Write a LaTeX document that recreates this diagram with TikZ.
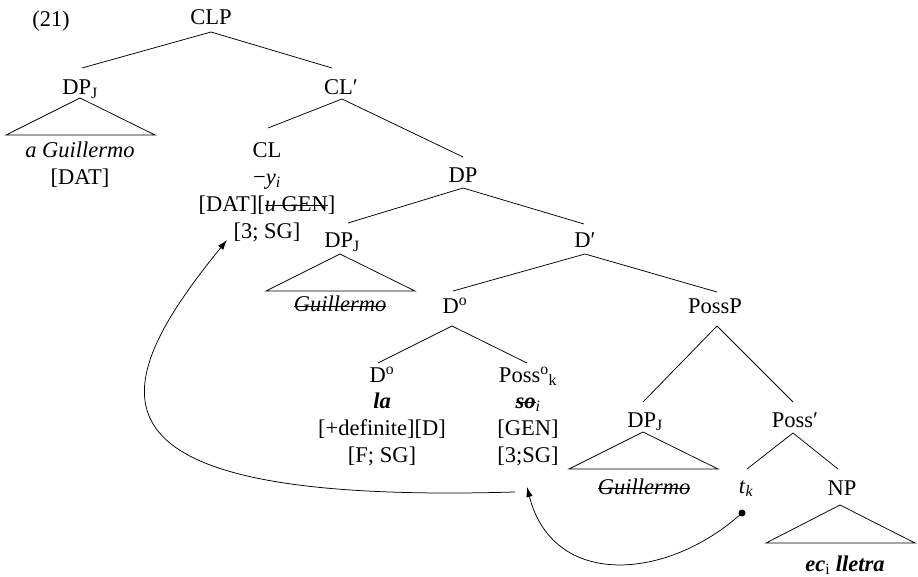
\documentclass[tikz,border=0pt]{standalone}
\usepackage{fontspec}
\setmainfont{Liberation Serif}
\usetikzlibrary{arrows.meta,calc}

% struck-through text: a thin rule laid over the box at mid x-height
\newsavebox{\strkbox}
\newcommand{\strk}[1]{\leavevmode\sbox{\strkbox}{#1}%
  \rlap{\rule[0.25em]{\wd\strkbox}{0.8pt}}\usebox{\strkbox}}

\tikzset{
  lbl/.style={inner sep=0pt, anchor=base, align=center,
              font=\fontsize{22.5}{26.7}\selectfont},
  branch/.style={line width=0.75pt},
  movearrow/.style={line width=0.75pt, -{Latex[length=10pt,width=6.5pt]}},
}

\begin{document}
\begin{tikzpicture}[x=1pt,y=-1pt]
\useasboundingbox (0,0) rectangle (918,577);

% ---- labels (base = baseline of the last line) ----
\node[lbl] (ex)     at (51,27)   {(21)};
\node[lbl] (CLP)    at (211,25)  {CLP};
\node[lbl] (DPa)    at (80,95)   {DP\textsubscript{J}};
\node[lbl] (CLbar)  at (341,95)  {CL′};
\node[lbl] (aG)     at (80,184.7)  {\textit{a Guillermo}\\{}[DAT]};
\node[lbl] (CL)     at (267,238.1) {CL\\−\textit{y}\textsubscript{\textit{i}}\\{}[DAT][\strk{\textit{u} GEN}]\\{}[3; SG]};
\node[lbl] (DP)     at (463,183) {DP};
\node[lbl] (DPb)    at (342,248) {DP\textsubscript{J}};
\node[lbl] (Gb)     at (340,312) {\strk{\textit{Guillermo}}};
\node[lbl] (Dbar)   at (585,248) {D′};
\node[lbl] (Dmid)   at (455,313) {D\textsuperscript{o}};
\node[lbl] (PossP)  at (715,313) {PossP};
\node[lbl] (Dlow)   at (382,462.1) {D\textsuperscript{o}\\\textbf{\textit{la}}\\{}[+definite][D]\\{}[F; SG]};
\node[lbl] (Poss)   at (528,462.1) {Poss\textsuperscript{o}\textsubscript{k}\\\strk{\textbf{\textit{so}}}\textsubscript{\textit{i}}\\{}[GEN]\\{}[3;SG]};
\node[lbl] (DPc)    at (645,427) {DP\textsubscript{J}};
\node[lbl] (Gc)     at (644,494) {\strk{\textit{Guillermo}}};
\node[lbl] (Possbar) at (795,427) {Poss′};
\node[lbl] (tk)     at (746,493) {\textit{t}\textsubscript{\textit{k}}};
\node[lbl] (NP)     at (842,495) {NP};
\node[lbl] (ecl)    at (845,571) {\textbf{\textit{ec}}\textsubscript{i} \textbf{\textit{lletra}}};

% ---- branches ----
\draw[branch] ($(CLP.base)+(0,7)$) -- ($(DPa.base)+(2,-27)$);
\draw[branch] ($(CLP.base)+(0,7)$) -- ($(CLbar.base)+(-9,-27)$);
\draw[branch] ($(CLbar.base)+(1,4)$) -- ($(CL.base)+(1,-110.1)$);
\draw[branch] ($(CLbar.base)+(1,4)$) -- ($(DP.base)+(0,-26)$);
\draw[branch] ($(DP.base)+(0,5)$) -- ($(DPb.base)+(6,-25)$);
\draw[branch] ($(DP.base)+(0,5)$) -- ($(Dbar.base)+(-1,-24)$);
\draw[branch] ($(Dbar.base)+(0,6)$) -- ($(Dmid.base)+(-2,-22)$);
\draw[branch] ($(Dbar.base)+(0,6)$) -- ($(PossP.base)+(2,-21)$);
\draw[branch] ($(Dmid.base)+(-3,13)$) -- ($(Dlow.base)+(-4,-99.1)$);
\draw[branch] ($(Dmid.base)+(-3,13)$) -- ($(Poss.base)+(-1,-99.1)$);
\draw[branch] ($(PossP.base)+(2,13)$) -- ($(DPc.base)+(-2,-25)$);
\draw[branch] ($(PossP.base)+(2,13)$) -- ($(Possbar.base)+(-2,-25)$);
\draw[branch] ($(Possbar.base)+(-2,6)$) -- ($(tk.base)+(1,-24)$);
\draw[branch] ($(Possbar.base)+(-2,6)$) -- ($(NP.base)+(-4,-26)$);

% ---- triangles ----
\draw[branch] ($(DPa.base)+(0,3)$)   -- ++(-74,37) -- ++(149,0) -- cycle;
\draw[branch] ($(DPb.base)+(-2,6)$)  -- ++(-74,37) -- ++(149,0) -- cycle;
\draw[branch] ($(DPc.base)+(-2,5)$)  -- ++(-74,37) -- ++(149,0) -- cycle;
\draw[branch] ($(NP.base)+(-2,10)$)  -- ++(-74,38) -- ++(149,0) -- cycle;

% ---- movement arrows ----
\coordinate (dot) at ($(tk.base)+(-4,20)$);
\coordinate (possfoot) at ($(Poss.base)+(-1,24.9)$);
\coordinate (clfoot) at ($(CL.base)+(-40,1.9)$);
\fill (dot) circle (3.5pt);
\draw[movearrow] (dot) .. controls +(-75,68) and +(26,102) .. (possfoot);
\draw[movearrow] ($(possfoot)+(-12,5)$) .. controls +(-450,13) and +(-122,150) .. (clfoot);
\end{tikzpicture}
\end{document}
